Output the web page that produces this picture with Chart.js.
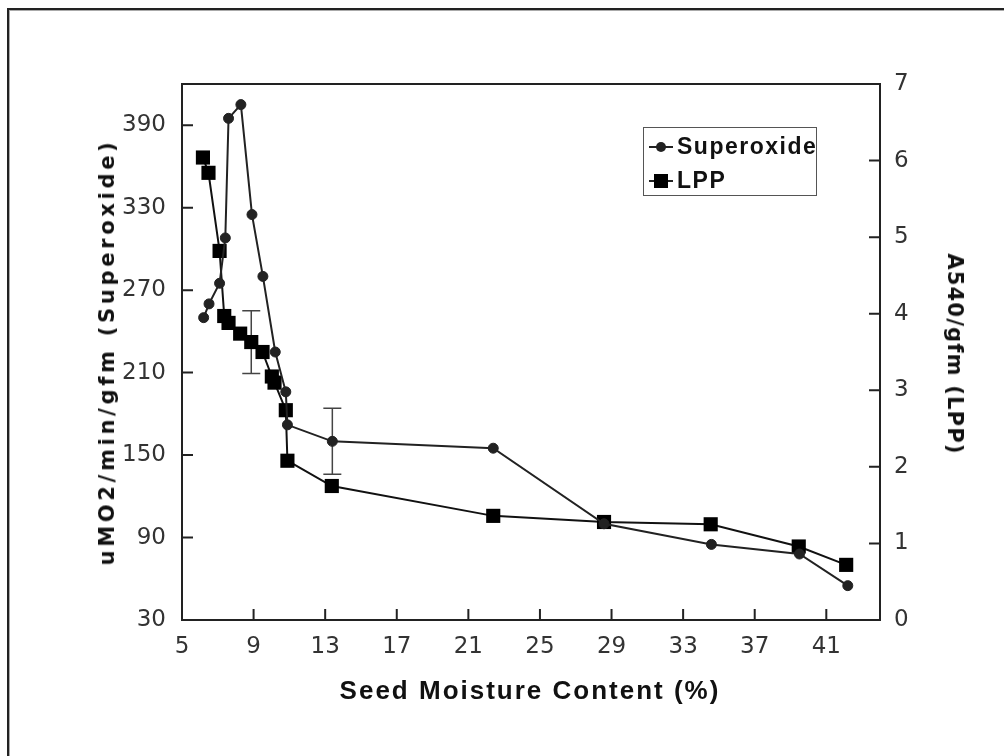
<!DOCTYPE html>
<html>
<head>
<meta charset="utf-8">
<script src="https://cdn.jsdelivr.net/npm/chart.js@4.4.0/dist/chart.umd.min.js"></script>
<style>
  body { margin: 0; background: #fff; }
  #wrap { position: relative; width: 1004px; height: 756px; overflow: hidden; }
  #frame { position: absolute; left: 7px; top: 8px; width: 1100px; height: 1000px;
           border: 2px solid #222; box-shadow: inset 1px 1px 0 #aaa; }
  canvas { position: absolute; left: 0; top: 0; }
  .title { position: absolute; white-space: nowrap; font-family: 'DejaVu Sans', sans-serif;
           font-weight: bold; color: #111; transform-origin: center center; }
  #legend { position: absolute; left: 643px; top: 127px; width: 174px; height: 69px;
            box-sizing: border-box; border: 1px solid #555; background: #fff; }
  .row { position: absolute; left: 5px; height: 30px; display: flex; align-items: center; }
  .row .line { position: absolute; left: 0; top: 14px; width: 24px; height: 2px; background: #222; }
  .row .dot { position: absolute; left: 7px; top: 10px; width: 10px; height: 10px; border-radius: 50%; background: #222; }
  .row .sq { position: absolute; left: 5px; top: 8px; width: 14px; height: 14px; background: #000; }
  .row span.lbl { position: absolute; left: 28px; top: 1px; font-family: 'Liberation Sans', Arial, sans-serif;
                  font-weight: bold; font-size: 23px; letter-spacing: 1.5px; color: #111; }
</style>
</head>
<body>
<div id="wrap">
  <div id="frame"></div>
  <canvas id="seedChart" width="1004" height="756"></canvas>
  <div class="title" id="yTitle" style="font-size:21px; letter-spacing:3.7px; left:107px; top:352px; transform:translate(-50%,-50%) rotate(-90deg);">uMO2/min/gfm (Superoxide)</div>
  <div class="title" id="y1Title" style="font-size:21px; letter-spacing:1.2px; left:955px; top:354px; transform:translate(-50%,-50%) rotate(90deg);">A540/gfm (LPP)</div>
  <div class="title" id="xTitle" style="font-family:'Liberation Sans',Arial,sans-serif; font-size:26px; letter-spacing:2px; left:530px; top:690px; transform:translate(-50%,-50%);">Seed Moisture Content (%)</div>
  <div id="legend">
    <div class="row" style="top:4px;"><div class="line"></div><div class="dot"></div><span class="lbl">Superoxide</span></div>
    <div class="row" style="top:38px;"><div class="line"></div><div class="sq"></div><span class="lbl">LPP</span></div>
  </div>
</div>
<script>
// data

const moistSuper = [6.21, 6.51, 7.10, 7.42, 7.60, 8.29, 8.91, 9.52, 10.21, 10.80, 10.89, 13.40, 22.39, 28.58, 34.58, 39.50, 42.20];
const superoxide = [250, 260, 275, 308, 395, 405, 325, 280, 225, 196, 172, 160, 155, 100, 85, 78, 55];
const superErr = [null, null, null, null, null, null, null, null, null, null, null, 24, null, null, null, null, null];

const moistLpp = [6.17, 6.48, 7.10, 7.36, 7.60, 8.25, 8.87, 9.50, 10.02, 10.17, 10.80, 10.89, 13.37, 22.39, 28.58, 34.54, 39.46, 42.11];
const lpp = [6.04, 5.84, 4.82, 3.97, 3.88, 3.74, 3.63, 3.50, 3.18, 3.10, 2.74, 2.08, 1.75, 1.36, 1.28, 1.25, 0.96, 0.72];
const lppErr = [null, null, null, null, null, null, 0.41, null, null, null, null, null, null, null, null, null, null, null];

const xTicks = [5, 9, 13, 17, 21, 25, 29, 33, 37, 41];
const yTicks = [30, 90, 150, 210, 270, 330, 390];
const y1Ticks = [0, 1, 2, 3, 4, 5, 6, 7];

const axisColor = '#222';
const tickColor = '#333';
const tickFont = { family: "'DejaVu Sans', sans-serif", size: 23 };

const superPoints = moistSuper.map((x, i) => ({ x: x, y: superoxide[i] }));
const lppPoints = moistLpp.map((x, i) => ({ x: x, y: lpp[i] }));

// error bars, drawn under the points through the scales
const errorBars = {
    id: 'errorBars',
    beforeDatasetsDraw(chart) {
        const ctx = chart.ctx;
        const xs = chart.scales.x;
        const sets = [
            { xv: moistSuper, yv: superoxide, err: superErr, axis: 'y' },
            { xv: moistLpp, yv: lpp, err: lppErr, axis: 'y1' }
        ];
        ctx.save();
        ctx.strokeStyle = '#444';
        ctx.lineWidth = 1.5;
        sets.forEach((s) => {
            const ys = chart.scales[s.axis];
            s.err.forEach((e, i) => {
                if (e == null) return;
                const px = xs.getPixelForValue(s.xv[i]);
                const top = ys.getPixelForValue(s.yv[i] + e);
                const bot = ys.getPixelForValue(s.yv[i] - e);
                ctx.beginPath();
                ctx.moveTo(px, top); ctx.lineTo(px, bot);
                ctx.moveTo(px - 9, top); ctx.lineTo(px + 9, top);
                ctx.moveTo(px - 9, bot); ctx.lineTo(px + 9, bot);
                ctx.stroke();
            });
        });
        ctx.restore();
    }
};

// inward tick marks and the top edge of the plot box
const boxTicks = {
    id: 'boxTicks',
    afterDraw(chart) {
        const ctx = chart.ctx;
        const a = chart.chartArea;
        ctx.save();
        ctx.strokeStyle = axisColor;
        ctx.lineWidth = 2;
        ctx.beginPath();
        ctx.moveTo(a.left - 1, a.top); ctx.lineTo(a.right + 1, a.top);
        chart.scales.x.ticks.forEach((t) => {
            const px = chart.scales.x.getPixelForValue(t.value);
            ctx.moveTo(px, a.bottom); ctx.lineTo(px, a.bottom - 11);
        });
        chart.scales.y.ticks.forEach((t) => {
            const py = chart.scales.y.getPixelForValue(t.value);
            ctx.moveTo(a.left, py); ctx.lineTo(a.left + 11, py);
        });
        chart.scales.y1.ticks.forEach((t) => {
            const py = chart.scales.y1.getPixelForValue(t.value);
            ctx.moveTo(a.right, py); ctx.lineTo(a.right - 11, py);
        });
        ctx.stroke();
        ctx.restore();
    }
};

const seedChart = new Chart(document.getElementById('seedChart'), {
    type: 'line',
    data: {
        datasets: [
            {
                label: 'Superoxide',
                data: superPoints,
                yAxisID: 'y',
                borderColor: '#222',
                backgroundColor: '#222',
                borderWidth: 2,
                pointStyle: 'circle',
                pointRadius: 5,
                pointBorderWidth: 1,
                tension: 0,
                fill: false
            },
            {
                label: 'LPP',
                data: lppPoints,
                yAxisID: 'y1',
                borderColor: '#111',
                backgroundColor: '#000',
                pointBorderColor: '#000',
                borderWidth: 2,
                pointStyle: 'rect',
                pointRadius: 10,
                pointBorderWidth: 0,
                tension: 0,
                fill: false
            }
        ]
    },
    options: {
        responsive: false,
        animation: false,
        devicePixelRatio: 1,
        layout: { padding: { top: 84, left: 0, right: 0, bottom: 0 } },
        plugins: {
            legend: { display: false },
            tooltip: { enabled: false }
        },
        scales: {
            x: {
                type: 'linear',
                position: 'bottom',
                min: 5,
                max: 44,
                afterBuildTicks: (s) => { s.ticks = xTicks.map((v) => ({ value: v })); },
                afterFit: (s) => { s.height = 136; },
                grid: { display: false, drawTicks: false },
                border: { display: true, color: axisColor, width: 2 },
                ticks: { font: tickFont, color: tickColor, padding: 13, maxRotation: 0, autoSkip: false }
            },
            y: {
                type: 'linear',
                position: 'left',
                min: 30,
                max: 420,
                afterBuildTicks: (s) => { s.ticks = yTicks.map((v) => ({ value: v })); },
                afterFit: (s) => { s.width = 182; },
                grid: { display: false, drawTicks: false },
                border: { display: true, color: axisColor, width: 2 },
                ticks: { font: tickFont, color: tickColor, padding: 16, autoSkip: false }
            },
            y1: {
                type: 'linear',
                position: 'right',
                min: 0,
                max: 7,
                afterBuildTicks: (s) => { s.ticks = y1Ticks.map((v) => ({ value: v })); },
                afterFit: (s) => { s.width = 124; },
                grid: { display: false, drawTicks: false },
                border: { display: true, color: axisColor, width: 2 },
                ticks: { font: tickFont, color: tickColor, padding: 14, autoSkip: false }
            }
        }
    },
    plugins: [errorBars, boxTicks]
});
</script>
</body>
</html>
